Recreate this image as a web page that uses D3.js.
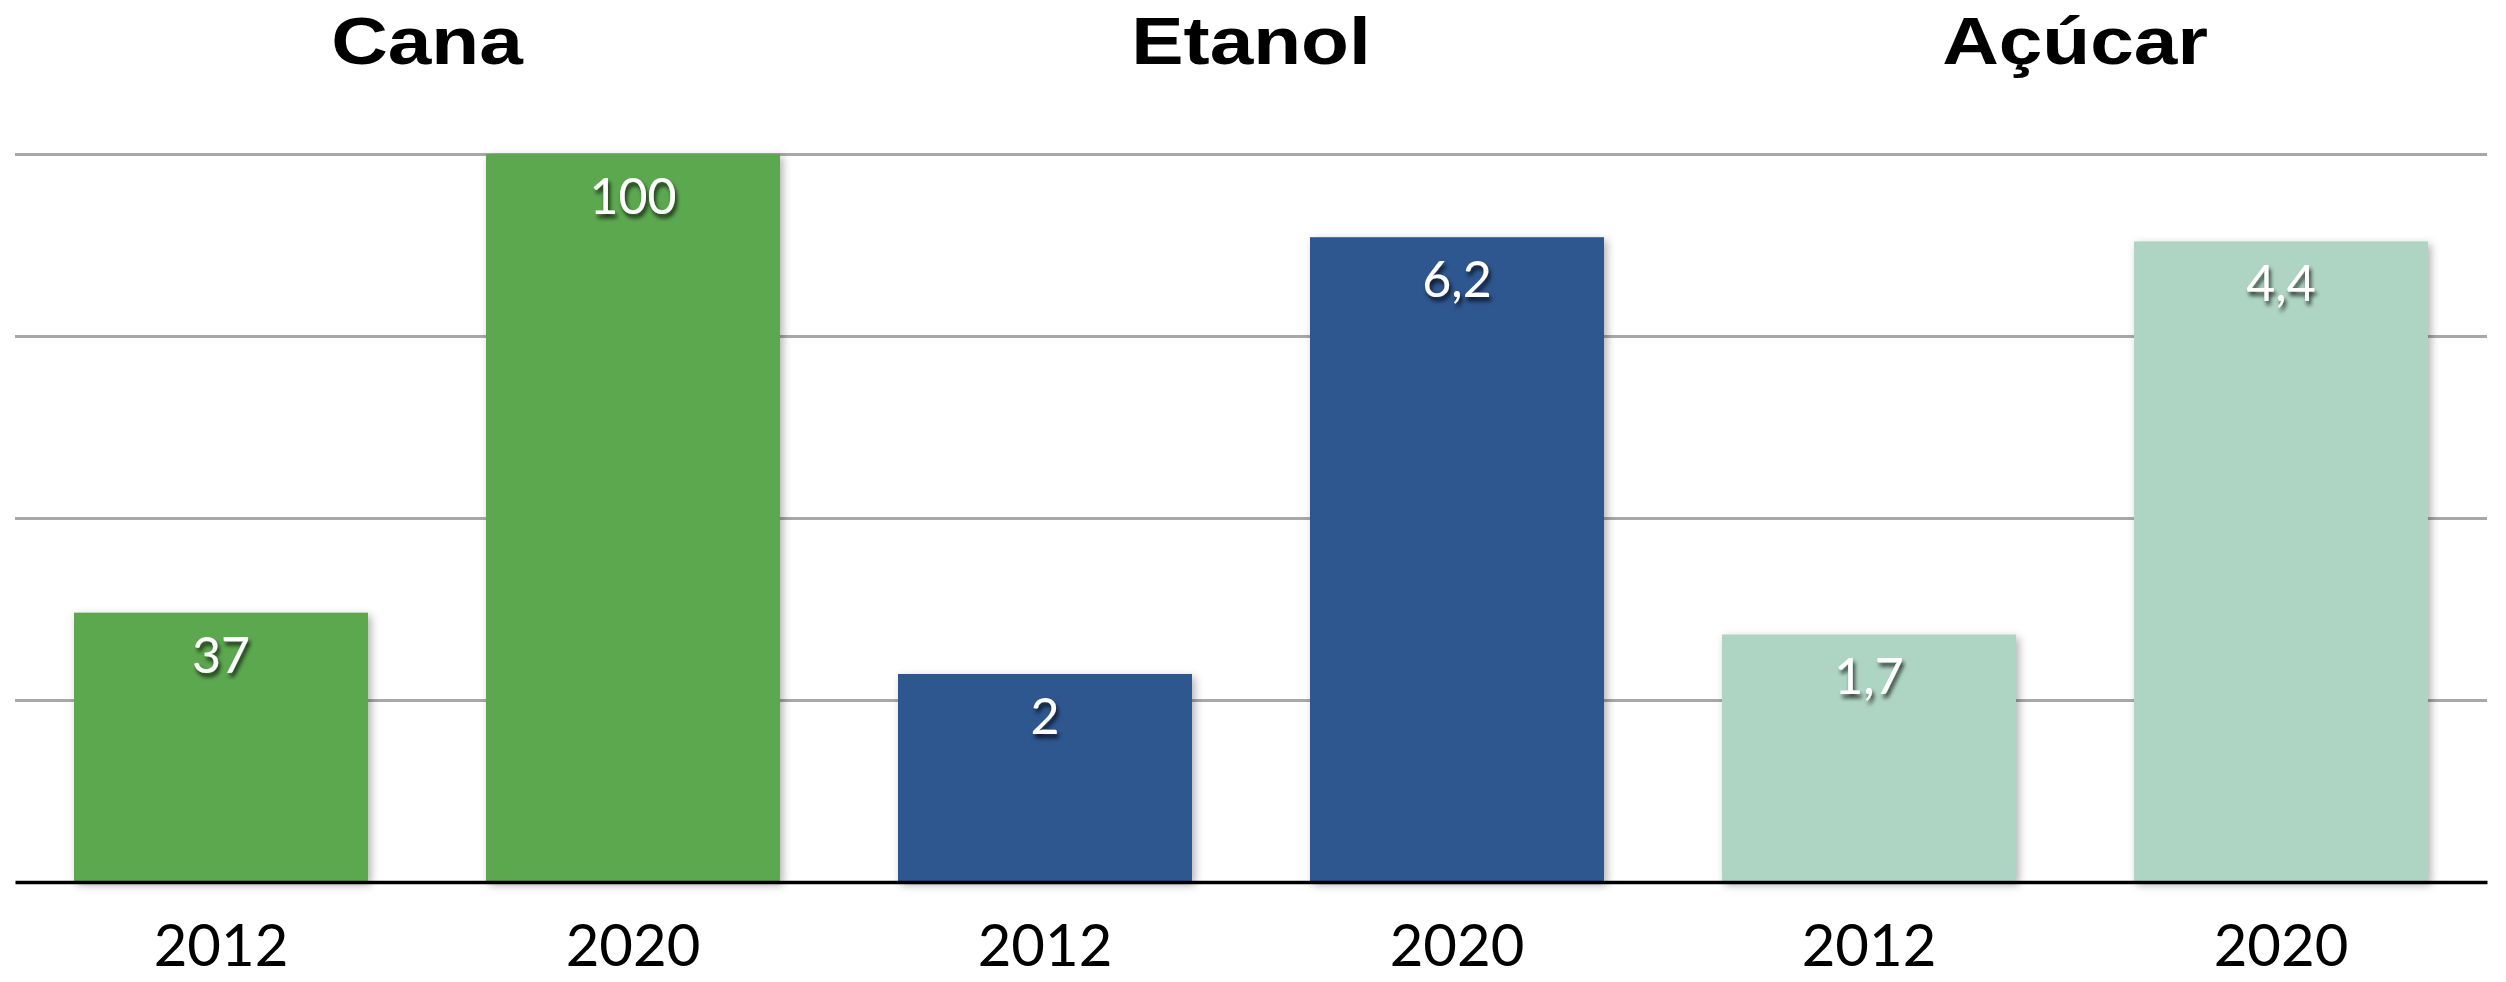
<!DOCTYPE html>
<html>
<head>
<meta charset="utf-8">
<script src="https://cdn.jsdelivr.net/npm/d3@7"></script>
<style>
  body { margin: 0; background: #fff; }
  svg { display: block; }
</style>
</head>
<body>
<div id="chart"></div>
<script>
// one panel per product, each with its own y scale
const panels = ["Cana", "Etanol", "Açúcar"];
const years = ["2012", "2020"];
const cana = [37, 100];
const etanol = [2, 6.2];
const acucar = [1.7, 4.4];
const panelMax = [100, 7, 5];
const gridSteps = [1, 2, 3, 4];
const colors = ["#5ba84f", "#2e568f", "#aed5c3"];

const series = [cana, etanol, acucar];

const W = 2506, H = 982;
const plotLeft = 15, plotRight = 2487, plotTop = 154, base = 882;

const svg = d3.select("#chart").append("svg")
    .attr("width", W)
    .attr("height", H);

const defs = svg.append("defs");
defs.append("filter").attr("id", "barShadow")
    .attr("x", "-10%").attr("y", "-10%").attr("width", "120%").attr("height", "120%")
  .append("feDropShadow")
    .attr("dx", 3).attr("dy", 3).attr("stdDeviation", 4)
    .attr("flood-color", "#000").attr("flood-opacity", 0.3);
defs.append("filter").attr("id", "textShadow")
    .attr("x", "-30%").attr("y", "-30%").attr("width", "160%").attr("height", "160%")
  .append("feDropShadow")
    .attr("dx", 2).attr("dy", 4).attr("stdDeviation", 2)
    .attr("flood-color", "#000").attr("flood-opacity", 0.75);

// x: outer band per product, inner band per year
const x0 = d3.scaleBand().domain(panels).range([plotLeft, plotRight]);
const x1 = d3.scaleBand().domain(years).range([0, x0.bandwidth()])
    .paddingInner(0.2864).paddingOuter(0.1432);

// gridlines (shared, 4 steps)
const g = d3.scaleLinear().domain([0, 4]).range([base, plotTop]);
svg.append("g")
    .attr("transform", `translate(${plotLeft},0)`)
    .call(d3.axisLeft(g).tickValues(gridSteps).tickSize(-(plotRight - plotLeft)).tickFormat(""))
    .call(s => s.select(".domain").remove())
    .call(s => s.selectAll(".tick line").attr("stroke", "#a8a8a8").attr("stroke-width", 3));

const fmt = d3.formatLocale({decimal: ",", thousands: ".", grouping: [3], currency: ["R$", ""]}).format("~g");

panels.forEach((p, i) => {
  const y = d3.scaleLinear().domain([0, panelMax[i]]).range([base, plotTop]);
  const grp = svg.append("g").attr("transform", `translate(${x0(p)},0)`);
  const rows = years.map((yr, j) => ({year: yr, value: series[i][j]}));

  grp.selectAll("rect").data(rows).join("rect")
      .attr("x", d => x1(d.year))
      .attr("y", d => y(d.value))
      .attr("width", x1.bandwidth())
      .attr("height", d => base - y(d.value))
      .attr("fill", colors[i])
      .attr("filter", "url(#barShadow)");

  grp.selectAll("text.val").data(rows).join("text")
      .attr("class", "val")
      .attr("x", d => x1(d.year) + x1.bandwidth() / 2)
      .attr("y", d => y(d.value) + 60)
      .attr("text-anchor", "middle")
      .attr("fill", "#fff")
      .attr("font-family", "Lato, sans-serif")
      .attr("font-size", 50)
      .attr("filter", "url(#textShadow)")
      .text(d => fmt(d.value));

  grp.selectAll("text.year").data(rows).join("text")
      .attr("class", "year")
      .attr("x", d => x1(d.year) + x1.bandwidth() / 2)
      .attr("y", 966)
      .attr("text-anchor", "middle")
      .attr("fill", "#000")
      .attr("font-family", "Lato, sans-serif")
      .attr("font-size", 58)
      .text(d => d.year);

  svg.append("text")
      .attr("transform", `translate(${x0(p) + x0.bandwidth() / 2},64) scale(1.17,1)`)
      .attr("text-anchor", "middle")
      .attr("font-family", "'Liberation Sans', Arial, sans-serif")
      .attr("font-weight", "bold")
      .attr("font-size", 67)
      .text(p);
});

// baseline
svg.append("g")
    .attr("transform", `translate(0,${base})`)
    .call(d3.axisBottom(d3.scaleLinear().range([plotLeft, plotRight])).ticks(0).tickSizeOuter(0))
    .call(s => s.select(".domain").attr("stroke", "#000").attr("stroke-width", 3.5));
</script>
</body>
</html>
